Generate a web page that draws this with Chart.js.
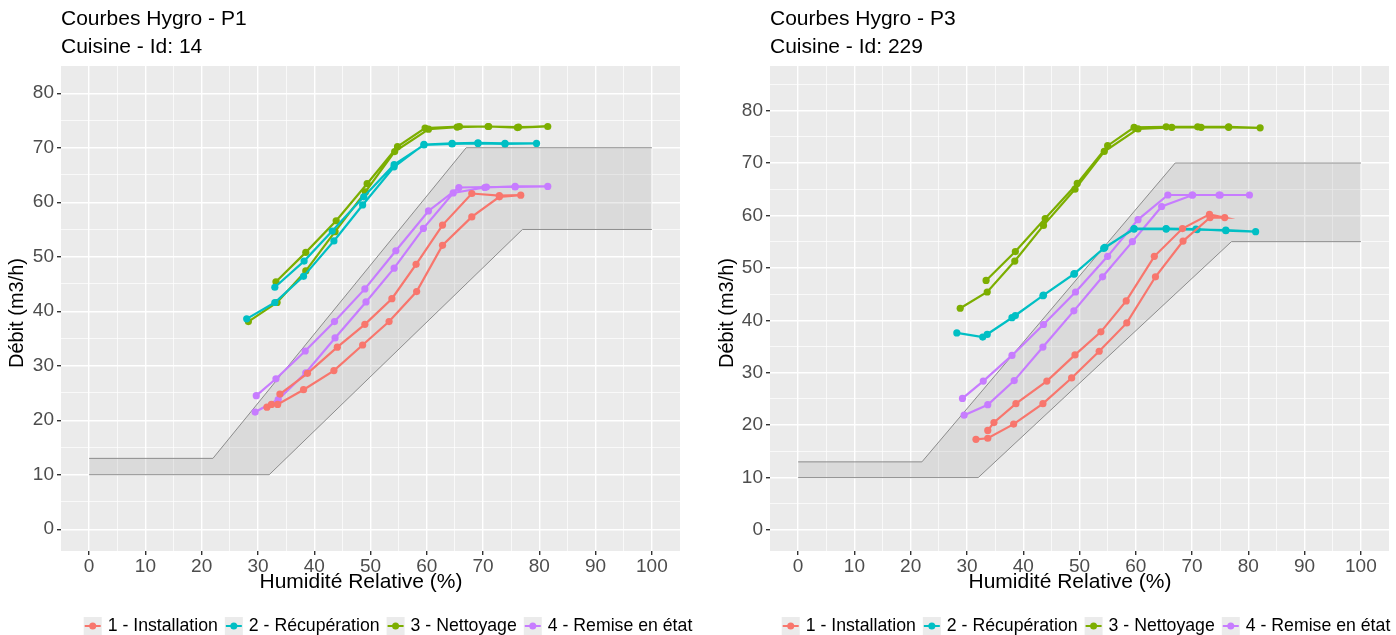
<!DOCTYPE html>
<html>
<head>
<meta charset="utf-8">
<script src="https://cdn.jsdelivr.net/npm/chart.js@4.4.1/dist/chart.umd.min.js"></script>
<style>
  body { margin: 0; background: #ffffff; }
  .wrap { display: flex; width: 1396px; height: 635px; }
  .panel { width: 698px; height: 635px; }
</style>
</head>
<body>
<div class="wrap">
  <div class="panel"><canvas id="chartP1" width="698" height="635"></canvas></div>
  <div class="panel"><canvas id="chartP3" width="698" height="635"></canvas></div>
</div>
<script>
const seriesNames = ['1 - Installation', '2 - Récupération', '3 - Nettoyage', '4 - Remise en état'];
const seriesColors = ['#F8766D', '#00BFC4', '#7CAE00', '#C77CFF'];

// P1 - Cuisine Id 14 (humidité relative %, débit m3/h), dans l'ordre des mesures
const p1InstallHR = [31.6, 32.4, 33.5, 38.1, 43.5, 48.6, 53.3, 58.2, 62.8, 68.0, 72.9, 76.7, 72.9, 68.0, 62.8, 58.1, 53.8, 49.0, 44.1, 38.8, 33.9];
const p1InstallDebit = [22.4, 22.9, 22.9, 25.6, 29.1, 33.8, 38.1, 43.6, 52.1, 57.3, 61.0, 61.3, 61.2, 61.6, 55.8, 48.6, 42.3, 37.6, 33.4, 28.6, 24.8];
const p1RecupHR = [28.0, 33.0, 38.1, 43.5, 48.6, 54.2, 59.5, 64.5, 69.1, 73.9, 79.5, 73.9, 69.1, 64.5, 59.5, 54.2, 48.8, 43.2, 38.2, 33.0];
const p1RecupDebit = [38.6, 41.6, 46.4, 52.9, 59.5, 66.5, 70.6, 70.8, 70.9, 70.8, 70.8, 70.7, 70.8, 70.7, 70.5, 66.9, 61.0, 54.7, 49.2, 44.4];
const p1NettoHR = [28.3, 33.4, 38.5, 43.7, 49.1, 54.3, 60.3, 65.4, 70.9, 76.1, 81.5, 76.3, 71.0, 65.8, 59.7, 54.8, 49.4, 43.9, 38.5, 33.2];
const p1NettoDebit = [38.1, 41.6, 47.4, 54.6, 61.9, 69.3, 73.4, 73.8, 73.9, 73.7, 73.9, 73.8, 73.9, 73.9, 73.6, 70.2, 63.4, 56.6, 50.8, 45.4];
const p1RemiseHR = [29.5, 33.6, 38.5, 43.7, 49.2, 54.2, 59.4, 64.7, 70.3, 75.7, 81.5, 75.7, 70.6, 65.7, 60.3, 54.5, 49.0, 43.6, 38.4, 33.2, 29.7];
const p1RemiseDebit = [21.5, 23.8, 28.7, 35.1, 41.7, 47.9, 55.2, 61.7, 62.7, 62.9, 62.9, 62.8, 62.8, 62.7, 58.4, 51.1, 44.1, 38.1, 32.7, 27.6, 24.5];

// P3 - Cuisine Id 229
const p3InstallHR = [31.6, 33.7, 38.3, 43.5, 48.6, 53.5, 58.4, 63.5, 68.4, 73.2, 75.8, 73.1, 68.3, 63.3, 58.3, 53.8, 49.2, 44.2, 38.7, 34.8, 33.7];
const p3InstallDebit = [17.3, 17.5, 20.2, 24.1, 29.0, 34.1, 39.5, 48.3, 55.1, 59.6, 59.6, 60.2, 57.5, 52.2, 43.7, 37.8, 33.4, 28.4, 24.1, 20.5, 19.0];
const p3RecupHR = [28.2, 32.8, 38.0, 43.5, 49.0, 54.3, 59.7, 65.4, 70.7, 76.0, 81.3, 76.0, 70.9, 65.4, 59.7, 54.5, 49.1, 43.6, 38.6, 33.6];
const p3RecupDebit = [37.6, 36.8, 40.5, 44.7, 48.8, 53.7, 57.5, 57.5, 57.4, 57.1, 56.9, 57.2, 57.3, 57.4, 57.4, 53.9, 48.9, 44.8, 40.9, 37.3];
const p3NettoHR = [28.8, 33.6, 38.5, 43.6, 49.2, 54.4, 60.4, 66.4, 71.6, 76.5, 82.1, 76.5, 71.0, 65.4, 59.7, 55.0, 49.6, 43.9, 38.6, 33.4];
const p3NettoDebit = [42.3, 45.4, 51.3, 58.1, 65.0, 72.2, 76.5, 76.8, 76.8, 76.8, 76.7, 76.9, 76.9, 76.9, 76.8, 73.3, 66.1, 59.4, 53.1, 47.6];
const p3RemiseHR = [29.5, 33.7, 38.4, 43.5, 49.0, 54.1, 59.4, 64.6, 70.1, 75.0, 80.2, 74.8, 70.0, 65.7, 60.4, 55.0, 49.3, 43.6, 38.0, 32.9, 29.2];
const p3RemiseDebit = [21.9, 23.9, 28.5, 34.9, 41.8, 48.3, 55.0, 61.7, 63.9, 63.9, 63.9, 63.9, 63.9, 63.9, 59.2, 52.2, 45.4, 39.2, 33.3, 28.4, 25.1];

// gabarit (zone grise)
const bandUpperHR = [0, 22, 67, 100];
const bandUpperDebit = [13, 13, 70, 70];
const bandLowerHR = [0, 32, 77, 100];
const bandLowerDebit = [10, 10, 55, 55];

const xTicks = [0, 10, 20, 30, 40, 50, 60, 70, 80, 90, 100];
const yTicks = [0, 10, 20, 30, 40, 50, 60, 70, 80];

const FONT = '"Liberation Sans", Arial, sans-serif';

function toPoints(xs, ys) {
    return xs.map((x, i) => ({ x: x, y: ys[i] }));
}

// fond gris du panneau
const panelBg = {
    id: 'panelBg',
    beforeDraw(chart) {
        const { ctx, chartArea: a } = chart;
        ctx.save();
        ctx.fillStyle = '#EBEBEB';
        ctx.fillRect(a.left, a.top, a.right - a.left, a.bottom - a.top);
        ctx.restore();
    }
};

// titres d'axes (position comme dans ggplot)
const axisTitles = {
    id: 'axisTitles',
    afterDraw(chart, args, opts) {
        const { ctx, chartArea: a } = chart;
        ctx.save();
        ctx.fillStyle = '#000000';
        ctx.textAlign = 'center';
        ctx.textBaseline = 'middle';
        ctx.font = opts.xSize + 'px ' + FONT;
        ctx.fillText(opts.xText, a.left + opts.xOffset, opts.xY);
        ctx.translate(opts.yX, a.top + opts.yOffset);
        ctx.rotate(-Math.PI / 2);
        ctx.font = opts.ySize + 'px ' + FONT;
        ctx.fillText(opts.yText, 0, 0);
        ctx.restore();
    }
};

// légende type ggplot (clé grise avec ligne + point)
const hygroLegend = {
    id: 'hygroLegend',
    afterDraw(chart, args, opts) {
        const ctx = chart.ctx;
        const key = 18, gapText = 6, gapItem = 7;
        ctx.save();
        ctx.font = '17.7px ' + FONT;
        const widths = seriesNames.map(n => ctx.measureText(n).width);
        const total = widths.reduce((s, w) => s + key + gapText + w, 0) + gapItem * (seriesNames.length - 1);
        let x = opts.centerX - total / 2;
        const y = opts.centerY;
        seriesNames.forEach((name, i) => {
            ctx.fillStyle = '#EBEBEB';
            ctx.fillRect(x, y - key / 2, key, key);
            ctx.strokeStyle = seriesColors[i];
            ctx.lineWidth = 2;
            ctx.beginPath();
            ctx.moveTo(x + 1, y);
            ctx.lineTo(x + key - 1, y);
            ctx.stroke();
            ctx.fillStyle = seriesColors[i];
            ctx.beginPath();
            ctx.arc(x + key / 2, y, 3.5, 0, Math.PI * 2);
            ctx.fill();
            x += key + gapText;
            ctx.fillStyle = '#000000';
            ctx.textBaseline = 'middle';
            ctx.textAlign = 'left';
            ctx.fillText(name, x, y);
            x += widths[i] + gapItem;
        });
        ctx.restore();
    }
};

function createHygroChart(canvasId, titleText, subtitleText, hrSets, debitSets, yMax, yAxisWidth, padRight, yTitleX) {
    try {
        if (typeof Chart === 'undefined') {
            throw new Error('Chart.js is not loaded');
        }

        const datasets = seriesNames.map((name, i) => ({
            label: name,
            data: toPoints(hrSets[i], debitSets[i]),
            showLine: true,
            borderColor: seriesColors[i],
            backgroundColor: seriesColors[i],
            borderWidth: 2.2,
            pointRadius: 3.6,
            pointBorderWidth: 0,
            pointHoverRadius: 3.6,
            order: 1
        }));
        datasets.push({
            label: 'gabarit haut',
            data: toPoints(bandUpperHR, bandUpperDebit),
            showLine: true,
            borderColor: '#8C8C8C',
            borderWidth: 1,
            pointRadius: 0,
            fill: '+1',
            backgroundColor: 'rgba(150, 150, 150, 0.2)',
            order: 10
        });
        datasets.push({
            label: 'gabarit bas',
            data: toPoints(bandLowerHR, bandLowerDebit),
            showLine: true,
            borderColor: '#8C8C8C',
            borderWidth: 1,
            pointRadius: 0,
            fill: false,
            order: 10
        });

        const inRange = (v, lo, hi) => v >= lo && v <= hi;

        return new Chart(document.getElementById(canvasId), {
            type: 'scatter',
            data: { datasets: datasets },
            options: {
                responsive: false,
                animation: false,
                layout: { padding: { left: 0, right: padRight, top: 0, bottom: 32 } },
                plugins: {
                    legend: { display: false },
                    tooltip: { enabled: false },
                    title: {
                        display: true,
                        text: titleText,
                        align: 'start',
                        fullSize: false,
                        color: '#000000',
                        font: { family: FONT, size: 21, weight: 'normal', lineHeight: 1.2 },
                        padding: { top: 7, bottom: 0 }
                    },
                    subtitle: {
                        display: true,
                        text: subtitleText,
                        align: 'start',
                        fullSize: false,
                        color: '#000000',
                        font: { family: FONT, size: 21, weight: 'normal', lineHeight: 1.2 },
                        padding: { top: 2, bottom: 6.6 }
                    },
                    axisTitles: {
                        xText: 'Humidité Relative (%)', xSize: 21, xOffset: 300, xY: 582,
                        yText: 'Débit (m3/h)', ySize: 20, yX: yTitleX, yOffset: 247
                    },
                    hygroLegend: { centerX: 388, centerY: 626 }
                },
                scales: {
                    x: {
                        type: 'linear',
                        min: -5,
                        max: 105,
                        afterFit: (s) => { s.height = 52; },
                        border: { display: false },
                        grid: {
                            color: (c) => inRange(c.tick.value, 0, 100) ? '#FFFFFF' : 'rgba(0,0,0,0)',
                            lineWidth: (c) => xTicks.includes(c.tick.value) ? 1.4 : 0.7,
                            tickColor: (c) => xTicks.includes(c.tick.value) ? '#333333' : 'rgba(0,0,0,0)',
                            tickLength: 4
                        },
                        ticks: {
                            stepSize: 5,
                            includeBounds: false,
                            autoSkip: false,
                            maxRotation: 0,
                            minRotation: 0,
                            padding: 0,
                            color: '#4D4D4D',
                            font: { family: FONT, size: 19 },
                            callback: (v) => xTicks.includes(v) ? String(v) : ''
                        },
                        title: { display: false }
                    },
                    y: {
                        type: 'linear',
                        min: -4,
                        max: yMax,
                        afterFit: (s) => { s.width = yAxisWidth; },
                        border: { display: false },
                        grid: {
                            color: (c) => inRange(c.tick.value, 0, yMax - 0.5) ? '#FFFFFF' : 'rgba(0,0,0,0)',
                            lineWidth: (c) => yTicks.includes(c.tick.value) ? 1.4 : 0.7,
                            tickColor: (c) => yTicks.includes(c.tick.value) ? '#333333' : 'rgba(0,0,0,0)',
                            tickLength: 4
                        },
                        ticks: {
                            stepSize: 5,
                            includeBounds: false,
                            autoSkip: false,
                            padding: 3,
                            color: '#4D4D4D',
                            font: { family: FONT, size: 19 },
                            callback: (v) => yTicks.includes(v) ? String(v) : ''
                        },
                        title: { display: false }
                    }
                }
            },
            plugins: [panelBg, axisTitles, hygroLegend]
        });
    } catch (error) {
        console.error('Chart creation error:', error);
    }
}

createHygroChart('chartP1', 'Courbes Hygro - P1', 'Cuisine - Id: 14',
    [p1InstallHR, p1RecupHR, p1NettoHR, p1RemiseHR],
    [p1InstallDebit, p1RecupDebit, p1NettoDebit, p1RemiseDebit],
    85, 61, 18, 17);

createHygroChart('chartP3', 'Courbes Hygro - P3', 'Cuisine - Id: 229',
    [p3InstallHR, p3RecupHR, p3NettoHR, p3RemiseHR],
    [p3InstallDebit, p3RecupDebit, p3NettoDebit, p3RemiseDebit],
    88.5, 72, 7, 29);
</script>
</body>
</html>
